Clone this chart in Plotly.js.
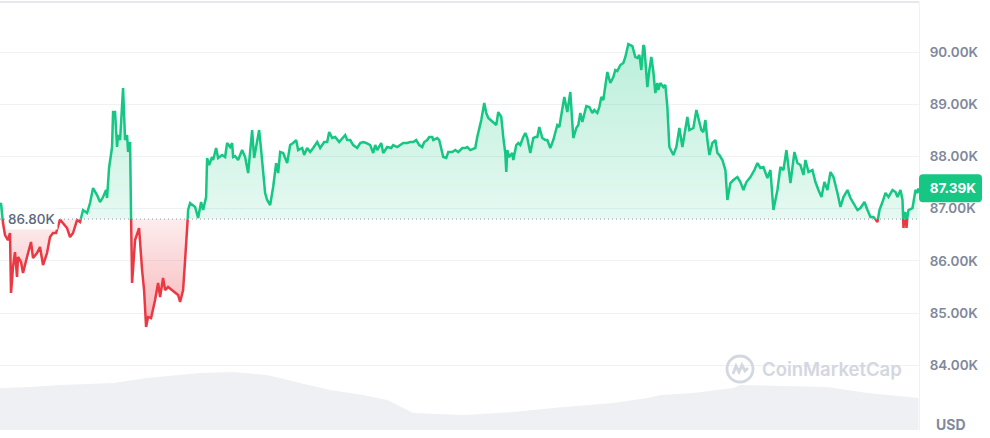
<!DOCTYPE html>
<html><head><meta charset="utf-8">
<script src="https://cdn.plot.ly/plotly-3.0.1.min.js"></script>
<style>html,body{margin:0;padding:0;background:#fff;}#chart{width:990px;height:438px;}</style>
</head><body><div id="chart"></div>
<script>
// ---- data (time in minutes from start of window, price in USD) ----
const minutes = [
0,1,3,5,8,10,11,13,15,17,18,21,23,27,31,33,37,40,43,47,50,53,56,60,63,67,70,73,77,80,83,87,90,93,97,100,103,106,107,109,112,113,115,117,118,120,123,125,127,128,130,131,132,
135,139,142,144,146,148,151,155,158,160,163,165,168,172,175,178,180,183,185,187,188,190,193,195,198,201,203,206,207,209,212,213,216,218,222,225,227,230,232,233,235,238,242,245,248,250,252,254,257,259,261,263,265,267,270,273,276,278,280,283,285,287,290,293,296,298,302,304,307,310,313,317,320,324,327,329,332,335,339,343,345,347,350,353,357,360,363,
366,370,373,375,377,381,383,387,391,393,397,400,403,407,410,413,416,419,422,424,427,429,432,433,437,439,441,443,446,448,452,455,458,462,465,467,470,475,477,481,484,486,488,492,494,496,498,501,503,505,506,507,509,512,513,516,518,520,523,525,527,530,533,535,537,539,542,545,
547,550,553,557,559,562,564,567,570,573,576,578,580,582,586,589,592,594,597,599,601,603,607,610,613,615,617,620,623,625,628,632,635,637,639,641,643,644,646,647,649,651,653,655,657,658,660,663,665,667,669,673,676,679,682,684,687,689,693,696,699,701,703,705,707,709,712,715,717,719,722,725,727,730,733,737,740,743,746,750,754,757,760,763,767,770,773,777,780,783,786,790,794,797,800,803,805,808,812,815,818,821,824,827,830,833,837,840,843,847,850,853,857,860,864,867,870,873,877,879,882,885,888,892,895,897,900,902,903,904,905,906,907,908,912,915,917,918
];
const prices = [
87069,87107,86724,86494,86398,86532,85383,85881,86168,85690,86073,85977,85766,86073,86360,86054,86149,86264,85919,86149,86456,86532,86532,86790,86724,86628,86456,86532,86781,86743,86973,86916,87107,87394,87260,87126,87222,87356,87203,87778,88180,88850,88850,88180,88410,88314,89310,88314,88410,88084,88276,86839,85575,
86398,86628,85824,85440,84732,84923,84904,85249,85575,85306,85670,85440,85498,85440,85383,85345,85211,85440,86015,86532,86973,87107,87069,87031,86820,87126,86973,87222,87969,87835,87988,87931,88161,87969,88027,87988,88257,88180,88257,87988,88008,87931,88122,87988,87682,88122,88506,87969,88314,88506,88122,87739,87299,87165,87069,87414,87873,87682,88084,88065,87969,87873,88218,88257,88314,88122,88161,88027,88161,88084,88161,88276,88161,88276,88276,88467,88352,88371,88276,88371,88410,88314,88314,88218,88161,88257,88276,
88257,88218,88065,88218,88122,88257,88065,88180,88161,88218,88180,88218,88257,88257,88276,88276,88314,88218,88180,88276,88314,88371,88371,88314,88352,88314,88161,87988,87969,88084,88084,88122,88084,88161,88161,88180,88122,88161,88371,88697,89023,88831,88736,88659,88640,88601,88850,88755,88371,88065,87701,88122,87988,88065,87931,88218,88257,88218,88371,88448,88352,88065,88352,88371,88371,88563,88352,88314,
88314,88161,88314,88601,88563,88889,89138,88850,89234,88352,88544,88601,88831,88659,88965,88946,88831,88889,88831,88946,89138,89080,89617,89406,89521,89655,89636,89751,89789,89904,90153,90115,89904,89885,89942,89655,90134,90096,89598,89329,89655,89904,89617,89214,89406,89272,89406,89329,89368,88946,88180,88027,88180,88544,88180,88410,88755,88506,88544,88889,88640,88506,88467,88697,88314,88027,88257,88314,88065,88027,87931,87739,87165,87490,87548,87605,87509,87356,87509,87605,87739,87873,87778,87797,87586,87739,86973,87356,87797,87739,88122,87490,88084,87873,87835,87644,87931,87701,87739,87509,87356,87222,87509,87356,87701,87605,87299,87031,87222,87356,87203,87107,86973,87011,87126,86973,86839,86839,86743,86973,87126,87299,87222,87356,87318,87222,87356,87165,86628,86877,86935,86628,86896,86973,87011,87356,87299,87390
];
const volMinutes = [0,30,60,113,147,200,233,267,300,330,363,387,413,463,513,563,613,647,660,693,733,740,827,867,918];
const volumes    = [4.2,4.3,4.5,4.7,5.2,5.7,5.8,5.5,4.7,4.0,3.5,3.0,1.7,1.5,1.8,2.3,2.7,3.2,3.5,3.7,4.2,4.5,4.3,3.7,3.2];
const baseline = 86800;
const baselineLabel = '86.80K';
const lastPrice = 87390;
const lastLabel = '87.39K';
const tickValues = [84000,85000,86000,87000,88000,89000,90000];
const tickLabels = ['84.00K','85.00K','86.00K','87.00K','88.00K','89.00K','90.00K'];
const currency = 'USD';
const watermark = 'CoinMarketCap';

// ---- build split series (green above baseline, red below) ----
const X = [], V = [];
for (let i = 0; i < minutes.length; i++) {
  if (i > 0) {
    const a = prices[i-1], b = prices[i];
    if ((a - baseline) * (b - baseline) < 0) {
      const t = (baseline - a) / (b - a);
      X.push(minutes[i-1] + t * (minutes[i] - minutes[i-1]));
      V.push(baseline);
    }
  }
  X.push(minutes[i]); V.push(prices[i]);
}
const G = V.map(v => v >= baseline ? v : null);
const R = V.map(v => v <= baseline ? v : null);
const GF = V.map(v => Math.max(v, baseline));
const RF = V.map(v => Math.min(v, baseline));
const B = X.map(() => baseline);

const GREEN = '#16c784', RED = '#ea3943';
const yRange = [82759, 90958];
const yPaper = v => (v - yRange[0]) / (yRange[1] - yRange[0]);

const traces = [
  {x: volMinutes, y: volumes, yaxis: 'y2', mode: 'lines', line: {width: 0}, fill: 'tozeroy', fillcolor: '#eef0f4', hoverinfo: 'skip'},
  {x: X, y: B, mode: 'lines', line: {width: 0}, hoverinfo: 'skip'},
  {x: X, y: GF, mode: 'lines', line: {width: 0}, fill: 'tonexty', fillcolor: 'rgba(22,199,132,0.16)',
   fillgradient: {type: 'vertical', colorscale: [[0, 'rgba(22,199,132,0.11)'], [1, 'rgba(22,199,132,0.30)']], start: baseline, stop: 90300}, hoverinfo: 'skip'},
  {x: X, y: B, mode: 'lines', line: {width: 0}, hoverinfo: 'skip'},
  {x: X, y: RF, mode: 'lines', line: {width: 0}, fill: 'tonexty', fillcolor: 'rgba(234,57,67,0.18)',
   fillgradient: {type: 'vertical', colorscale: [[0, 'rgba(234,57,67,0.38)'], [1, 'rgba(234,57,67,0.09)']], start: 84700, stop: baseline}, hoverinfo: 'skip'},
  {x: X, y: G, mode: 'lines', line: {color: GREEN, width: 2.5}, connectgaps: false, hoverinfo: 'skip'},
  {x: X, y: R, mode: 'lines', line: {color: RED, width: 2.5}, connectgaps: false, hoverinfo: 'skip'}
];

const wmX = 740 / 919, wmY = (430 - 369) / 428;
const wmColor = '#d3d7df';

const layout = {
  width: 990, height: 438,
  margin: {l: 0, r: 71, t: 2, b: 8, pad: 0},
  paper_bgcolor: '#ffffff', plot_bgcolor: '#ffffff',
  showlegend: false, hovermode: false,
  font: {family: 'Inter, sans-serif'},
  xaxis: {range: [0, 918.5], showgrid: false, zeroline: false, showticklabels: false, ticks: '', showline: false, fixedrange: true},
  yaxis: {side: 'right', range: yRange, tickmode: 'array', tickvals: tickValues, ticktext: tickLabels,
          showgrid: true, gridcolor: '#eff2f5', gridwidth: 1, zeroline: false,
          ticks: 'outside', ticklen: 7, tickcolor: 'rgba(0,0,0,0)',
          tickfont: {family: 'Inter, sans-serif', size: 13.5, color: '#7f889b', weight: 600},
          showline: true, linecolor: '#eff2f5', linewidth: 1, fixedrange: true},
  yaxis2: {overlaying: 'y', range: [0, 42.8], visible: false, fixedrange: true},
  shapes: [
    {type: 'line', xref: 'paper', yref: 'paper', x0: 0, x1: 1, y0: 1, y1: 1, line: {color: '#e5e8ec', width: 2}},
    {type: 'line', xref: 'paper', yref: 'y', x0: 0, x1: 1, y0: baseline, y1: baseline, line: {color: '#a6acb8', width: 1.2, dash: '1px,3px'}},
    {type: 'path', xref: 'paper', yref: 'paper', xsizemode: 'pixel', ysizemode: 'pixel', xanchor: 1, yanchor: yPaper(lastPrice),
     path: 'M 4 -14 L 59 -14 Q 63 -14 63 -10 L 63 10 Q 63 14 59 14 L 4 14 Q 0 14 0 10 L 0 -10 Q 0 -14 4 -14 Z',
     fillcolor: GREEN, line: {width: 0}},
    {type: 'circle', xref: 'paper', yref: 'paper', xsizemode: 'pixel', ysizemode: 'pixel', xanchor: wmX, yanchor: wmY,
     x0: -13, x1: 13, y0: -13, y1: 13, line: {color: wmColor, width: 2.8}, fillcolor: 'rgba(0,0,0,0)'},
    {type: 'path', xref: 'paper', yref: 'paper', xsizemode: 'pixel', ysizemode: 'pixel', xanchor: wmX, yanchor: wmY,
     path: 'M -7 -5 L -4 3 L -1 -3 L 2 4 L 5 -2 L 8 1', line: {color: wmColor, width: 2.8}}
  ],
  annotations: [
    {xref: 'paper', x: 0, xanchor: 'left', xshift: 5, yref: 'y', y: baseline, yanchor: 'middle', text: baselineLabel,
     showarrow: false, font: {family: 'Inter, sans-serif', size: 13.5, color: '#58667e', weight: 500}, bgcolor: '#ffffff', borderpad: 2},
    {xref: 'paper', x: 1, xanchor: 'left', xshift: 4, yref: 'y', y: lastPrice, yanchor: 'middle', text: lastLabel,
     width: 56, align: 'center', showarrow: false, font: {family: 'Inter, sans-serif', size: 13.5, color: '#ffffff', weight: 700}},
    {xref: 'paper', x: 1, xanchor: 'left', xshift: 15, yref: 'paper', y: 0, yanchor: 'middle', yshift: 6, text: currency,
     showarrow: false, font: {family: 'Inter, sans-serif', size: 14, color: '#808a9d', weight: 700}},
    {xref: 'paper', x: (763 + 900) / 2 / 919, xanchor: 'center', yref: 'paper', y: wmY, yanchor: 'middle', text: watermark,
     showarrow: false, font: {family: 'Inter, sans-serif', size: 18.5, color: wmColor, weight: 600}}
  ]
};

Plotly.newPlot('chart', traces, layout, {staticPlot: true, displayModeBar: false});
</script>
</body></html>
